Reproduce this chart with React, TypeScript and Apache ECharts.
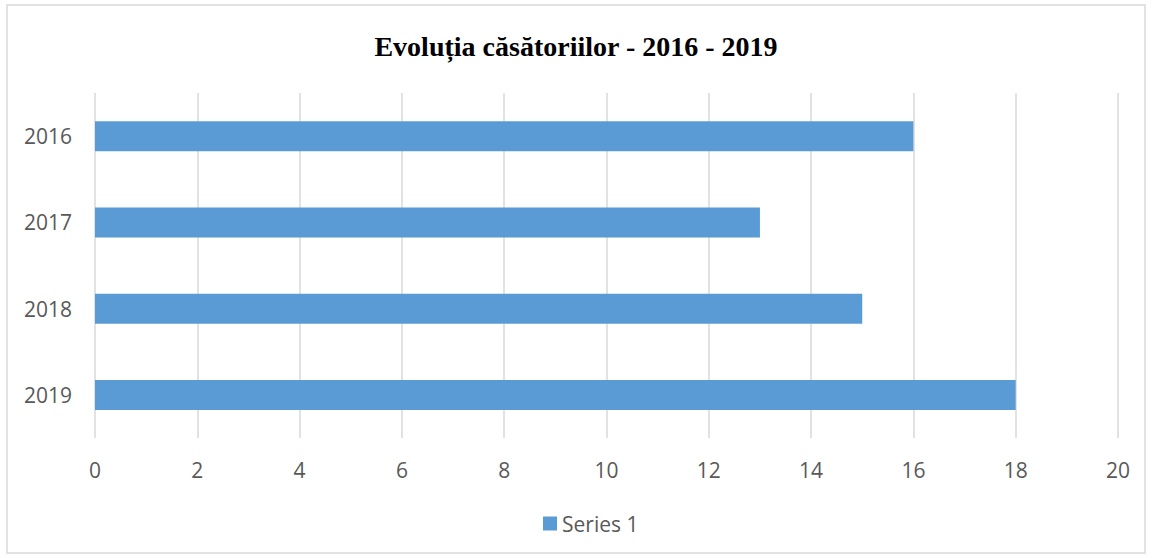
import React, { useEffect, useRef } from "react";
import * as echarts from "echarts";

const categories = ["2016", "2017", "2018", "2019"];
const values = [16, 13, 15, 18];
const seriesName = "Series 1";
const titleText = "Evoluția căsătoriilor - 2016 - 2019";

export default function App() {
  const ref = useRef<HTMLDivElement>(null);
  useEffect(() => {
    if (!ref.current) return;
    const chart = echarts.init(ref.current, undefined, { renderer: "svg" });
    chart.setOption({
      animation: false,
      backgroundColor: "#ffffff",
      title: {
        text: titleText,
        left: "center",
        top: 27,
        textStyle: {
          fontFamily: "Liberation Serif",
          fontWeight: "bold",
          fontSize: 28,
          color: "#000000",
        },
      },
      graphic: [
        {
          type: "rect",
          shape: { x: 7, y: 5, width: 1138, height: 548 },
          style: { fill: "none", stroke: "#d9d9d9", lineWidth: 1.5 },
          silent: true,
        },
      ],
      legend: {
        data: [seriesName],
        left: 538,
        top: 508,
        itemWidth: 14,
        itemHeight: 14,
        itemGap: 10,
        icon: "rect",
        textStyle: { fontFamily: "Open Sans", fontSize: 21, color: "#595959", padding: [0, 0, 0, 0] },
      },
      grid: { left: 95, right: 34, top: 93, bottom: 120, containLabel: false },
      xAxis: {
        type: "value",
        min: 0,
        max: 20,
        interval: 2,
        axisLine: { show: false },
        axisTick: { show: false },
        axisLabel: { fontFamily: "Open Sans", fontSize: 21, color: "#595959", margin: 21 },
        splitLine: { show: true, lineStyle: { color: "#d9d9d9", width: 1.5 } },
      },
      yAxis: {
        type: "category",
        data: categories,
        inverse: true,
        axisLine: { show: false },
        axisTick: { show: false },
        axisLabel: { fontFamily: "Open Sans", fontSize: 21, color: "#595959", margin: 23 },
      },
      series: [
        {
          name: seriesName,
          type: "bar",
          data: values,
          barWidth: 30,
          itemStyle: { color: "#5b9bd5" },
        },
      ],
    });
    return () => chart.dispose();
  }, []);
  return (
    <div
      ref={ref}
      style={{ position: "absolute", left: 0, top: 0, width: 1152, height: 558 }}
    />
  );
}
